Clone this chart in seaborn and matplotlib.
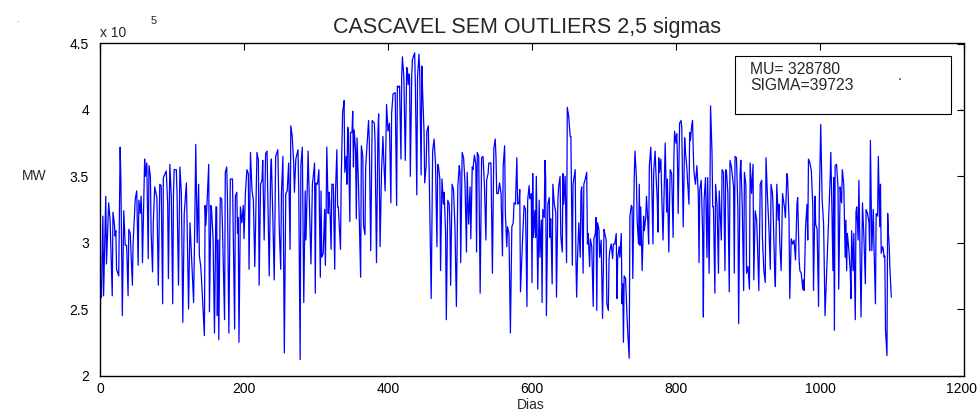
import numpy as np
import pandas as pd
import matplotlib
matplotlib.use("Agg")
import matplotlib.pyplot as plt
from matplotlib.patches import Rectangle
import matplotlib.transforms as mtransforms
import seaborn as sns

# ---- data (MW / 1e5) ----
dias_a = [0,1,2,4,5, 8,9,12,14,17, 18,20,21,22,23, 26,28,29,31,33, 35,37,39,40,42, 45,46,49,51,53,
          54,56,57,58,59, 62,63,65,67,68, 70,71,73,74,76, 79,81,83,85,87, 88,92,94,95,97, 99,101,102,103,106,
          107,109,111,113,115, 117,120,123,125,127, 130,132,133,135,137, 138]
mw_a = [2.27,2.72,2.59,3.20,2.60, 3.35,2.84,3.30,3.17,2.60, 3.23,3.14,3.05,3.09,2.80, 2.75,3.72,3.48,2.45,3.24,
        2.98,2.98,2.60,3.10,3.07, 2.68,3.00,3.33,3.39,2.83, 3.32,3.22,3.35,3.22,2.85, 3.63,3.50,3.60,2.88,3.58,
        3.50,3.08,2.78,3.15,3.42, 3.34,2.68,3.44,3.43,2.54, 3.49,3.54,3.29,2.73,3.59, 3.35,2.54,3.35,3.55,3.55,
        3.37,2.68,3.57,3.37,2.40, 3.22,3.45,2.50,3.15,2.91, 2.55,3.29,3.74,3.00,3.44, 2.90]

dias_b = [140,142,145,146,147, 149,151,152,154,155, 157,159,161,162,163, 164,165,167,169,170,
          173,174,176,177,179, 181,184,185,187,188, 190,191,192,193,195, 197,199,200,202,204,
          206,207,209,211,213, 215,218,220,221,223, 225,226,228,230,232, 235,237,238,240,242,
          244,247,249,251,252, 254,256,258,260,262, 264,265,267,269,270, 272,275,276,278]
mw_b = [2.82,2.62,2.30,3.28,3.13, 3.34,3.59,2.48,3.28,3.24, 3.04,2.32,3.27,3.27,2.45, 3.02,2.27,3.34,3.33,3.14,
        2.42,3.53,3.57,3.34,2.32, 3.48,3.48,3.10,2.35,3.35, 3.38,3.07,3.19,2.25,3.27, 3.15,3.28,3.03,3.38,3.55,
        3.52,2.80,3.68,3.40,3.32, 2.82,3.68,3.62,2.68,3.44, 3.47,3.62,3.02,3.67,3.69, 2.75,3.54,3.63,3.20,2.72,
        3.65,3.70,3.10,2.80,3.37, 3.65,2.17,3.37,3.39,3.60, 2.95,3.88,3.80,3.60,3.38, 3.63,3.70,3.40,2.12]

dias_c = [279,281,283,285,286, 288,289,291,293,295, 296,298,299,300,302, 304,305,306,307,308,
          310,312,313,314,315, 317,318,319,321,322, 324,326,327,329,330, 331,334,335,337,338,
          339,340,342,343,344, 345,347,348,350,351, 352,353,355,356,357, 359,362,363,365,366,
          368,369,373,374,376, 378,381,382,384,386, 387,389,391,393,394, 396,398,400,402,404,
          405,407,410,412,413, 415,416,418,419,420, 422]
mw_c = [3.58,3.72,2.55,3.39,3.02, 3.44,3.69,3.27,2.84,3.44, 3.49,3.60,2.62,3.45,3.44, 3.55,3.15,2.74,3.39,2.89,
        2.92,3.25,2.83,3.20,3.72, 3.22,3.38,3.32,2.95,3.44, 3.44,2.80,3.37,3.70,3.27, 3.27,2.95,3.47,3.99,4.02,
        4.07,3.53,3.65,3.44,3.87, 3.84,3.16,3.83,3.83,3.99, 3.57,3.85,3.69,3.18,3.79, 3.44,2.74,3.73,3.65,3.13,
        3.06,3.57,3.92,3.77,2.94, 3.92,3.90,3.77,2.85,3.83, 3.97,2.97,3.54,3.80,3.64, 3.39,4.04,3.84,3.90,3.30,
        3.97,4.12,4.13,3.28,4.18, 4.17,4.18,3.63,4.25,4.40, 4.25]

dias_d = [424,426,427,428,429, 430,431,433,434,437, 438,440,441,443,444, 446,447,448,450,451,
          453,454,456,457,460, 462,464,466,468,469, 470,472,473,475,477, 478,480,481,483,485,
          486,487,489,491,493, 495,497,499,500,501, 503,505,507,509,510, 512,514,515,517,518,
          520,522,523,524,526, 528,530,532,534,536, 537,539,540,543,545, 547,549,550,551,553,
          555,557,559,560,562, 563,565,566,568,570]
mw_d = [3.62,4.32,4.29,4.19,4.27, 4.24,3.50,4.27,4.38,4.43, 4.19,3.36,4.24,4.42,4.29, 3.51,4.33,4.15,3.84,3.45,
        3.58,3.84,3.88,3.59,2.58, 3.69,3.78,3.59,2.97,3.59, 3.58,3.48,2.79,3.48,3.29, 3.38,3.07,2.42,3.32,3.29,
        3.14,2.68,3.44,3.40,3.12, 2.52,3.43,3.58,3.53,2.85, 3.68,3.64,3.44,2.93,3.53, 3.14,3.42,3.03,3.57,3.55,
        3.66,3.59,2.93,3.68,3.65, 2.62,3.64,3.65,3.42,3.02, 3.47,3.52,3.60,3.60,2.77, 3.71,3.78,3.64,3.37,3.37,
        3.45,3.37,2.90,3.58,3.73, 3.22,2.97,3.12,3.07,2.32]

dias_e = [572,574,575,577,579, 580,582,583,584,587, 589,591,593,594,596, 597,599,600,601,602,
          604,605,606,608,610, 611,613,614,615,617, 618,619,620,622,624, 625,626,628,629,631,
          633,634,636,637,639, 640,642,643,644,646, 648,649,651,653,654, 656,657,660,661,662,
          663,665,667,668,669, 671,672,674,676,677, 678,680,681,683,685, 686,688,689,690,691,
          693,694,696,698,700, 701,703,704,706,707, 708,710,712,713,715, 717]
mw_e = [3.12,3.15,3.30,3.29,3.64, 3.29,3.30,3.40,2.63,3.04, 3.28,3.25,2.52,3.32,3.43, 3.33,3.37,2.70,3.52,3.04,
        3.24,3.04,3.50,2.65,3.32, 2.89,3.17,2.55,3.25,3.19, 3.62,3.49,2.45,3.29,3.34, 3.04,3.18,2.69,3.44,3.29,
        3.23,2.59,3.32,3.42,3.50, 3.05,2.93,3.52,3.29,3.50, 2.85,4.02,3.95,3.80,3.80, 2.83,3.44,3.55,2.87,2.59,
        2.84,3.15,2.89,3.38,3.42, 2.77,3.44,3.48,3.53,2.99, 3.07,2.82,3.03,2.97,2.52, 3.03,3.07,3.19,2.49,3.15,
        3.10,2.89,3.02,2.43,3.10, 3.07,3.02,2.54,2.49,2.87, 2.94,2.99,2.88,2.99,2.99, 3.07]

dias_f = [718,719,721,722,724, 725,726,727,728,730, 732,733,735,736,738, 739,740,742,743,745,
          746,748,749,750,751, 753,755,756,758,759, 761,762,763,765,766, 768,769,771,772,774,
          775,776,777,779,780, 782,784,785,787,788, 790,791,792,794,796, 797,798,800,801,802,
          803,805,807,808,810, 812,813,815,816,818, 819,820,822,823,824, 825,827,829,831,832,
          833,835,837,838,839, 841,843,844,846,847, 848,850,851,852,854, 855,857,859,860]
mw_f = [2.58,2.88,2.97,2.89,3.07, 2.54,2.69,2.25,2.75,2.73, 2.44,2.32,2.13,3.20,3.28, 3.27,2.73,3.50,3.69,3.49,
        3.17,2.99,3.44,2.98,3.27, 2.79,3.20,3.09,3.19,3.35, 3.14,2.99,3.58,3.72,3.54, 2.99,3.53,3.69,3.54,3.32,
        3.08,3.64,3.53,3.63,3.40, 3.02,3.52,3.75,3.23,3.48, 2.93,3.29,3.55,3.52,3.04, 3.62,3.84,3.75,3.82,3.63,
        3.22,3.90,3.92,3.87,3.12, 3.79,3.69,3.57,3.47,3.29, 3.83,3.77,3.89,3.92,3.68, 3.53,3.44,3.58,3.36,2.85,
        3.40,3.47,3.07,2.44,3.32, 3.49,2.89,3.49,2.77,3.28, 4.03,3.68,3.27,3.27,2.62, 3.44,3.28,2.77,3.39]

dias_g = [863,864,866,868,869, 870,872,874,875,877, 880,881,882,884,886, 887,889,890,892,894,
          895,897,898,900,902, 903,905,907,908,910, 912,913,915,917,919, 920,922,924,925,927,
          929,931,932,934,935, 937,938,940,942,943, 944,946,948,951,952, 954,955,957,958,960,
          962,964,966,968,969, 971,972,974,976,977, 978,980,982,983,984, 986,988,990,991,993,
          994,996,998,999,1001, 1003,1005,1007]
mw_g = [3.02,3.55,3.53,2.79,3.55, 3.54,3.38,2.63,3.62,3.57, 3.42,2.77,3.65,3.64,3.24, 2.39,3.52,3.62,3.28,2.64,
        3.53,3.44,2.77,2.82,2.65, 3.60,3.37,3.59,2.72,3.24, 3.17,3.02,2.64,3.44,3.47, 3.04,2.79,2.70,3.64,3.35,
        3.12,2.80,3.44,3.37,3.22, 2.79,2.67,3.44,3.17,3.29, 3.02,2.79,3.37,3.25,3.19, 3.52,3.49,3.17,2.58,3.03,
        2.99,3.02,2.87,3.29,3.34, 2.87,2.79,2.77,2.65,2.72, 2.64,3.12,3.29,3.02,3.63, 3.60,3.54,3.27,2.64,3.35,
        3.14,3.10,2.52,3.29,3.89, 3.32,3.14,2.45]

dias_h = [1014,1015,1016,1018,1019, 1020,1021,1023,1025,1026, 1028,1029,1030,1031,1033, 1035,1036,1037,1038,1040,
          1042,1043,1044,1046,1047, 1049,1050,1051,1053,1054, 1056,1057,1059,1061,1063, 1064,1066,1068,1069,1070,
          1072,1074,1075,1077,1078, 1080,1081,1083,1084,1085, 1087,1088,1089,1090,1091, 1093,1094,1095,1096,1097,
          1099]
mw_h = [3.47,3.68,3.42,2.79,3.49, 2.34,3.58,3.59,3.42,2.65, 3.42,3.34,3.30,3.55,3.44, 2.89,3.17,2.79,3.07,2.95,
        2.79,2.58,3.09,2.79,3.07, 2.42,3.23,3.27,3.02,3.47, 2.77,2.44,3.30,3.04,2.69, 3.25,3.22,3.15,2.94,3.77,
        2.94,3.25,2.97,2.54,3.22, 3.20,3.65,3.12,3.44,2.92, 2.97,2.95,2.89,2.90,2.34, 2.15,3.22,3.07,2.99,2.82,
        2.59]

x_ticks = [0, 200, 400, 600, 800, 1000, 1200]
y_ticks = [2, 2.5, 3, 3.5, 4, 4.5]
y_tick_labels = ["2", "2.5", "3", "3.5", "4", "4.5"]
titulo = "CASCAVEL SEM OUTLIERS 2,5 sigmas"
caixa_linhas = ["MU= 328780", "SIGMA=39723"]

dias_all, mw_all = [], []
for d, m in [(dias_a, mw_a), (dias_b, mw_b), (dias_c, mw_c), (dias_d, mw_d),
             (dias_e, mw_e), (dias_f, mw_f), (dias_g, mw_g), (dias_h, mw_h)]:
    assert len(d) == len(m), (len(d), len(m))
    dias_all += d
    mw_all += m
df = pd.DataFrame({"Dias": dias_all, "MW": mw_all})

# ---- figure ----
sns.set_style("white")
plt.rcParams["font.family"] = ["Liberation Sans", "DejaVu Sans"]

W, H = 977, 416
fig = plt.figure(figsize=(W / 100, H / 100), dpi=100)
fig.patch.set_facecolor("white")
ax = fig.add_axes([100 / W, 1 - 375.5 / H, 864 / W, 332 / H])

sns.lineplot(data=df, x="Dias", y="MW", ax=ax, color=(0, 0, 1), lw=0.9,
             estimator=None, sort=False)

ax.set_xlim(0, 1200)
ax.set_ylim(2, 4.5)
ax.set_xticks(x_ticks)
ax.set_xticklabels([str(t) for t in x_ticks])
ax.set_yticks(y_ticks)
ax.set_yticklabels(y_tick_labels)
ax.tick_params(axis="both", direction="in", length=5, width=0.8, colors="black",
               top=True, right=True, labelsize=10)
ax.tick_params(axis="x", pad=5)
ax.tick_params(axis="y", pad=8)
# keep the last x label inside the canvas
last = ax.get_xticklabels()[-1]
last.set_transform(last.get_transform() + mtransforms.ScaledTranslation(-3 / 100, 0, fig.dpi_scale_trans))
for s in ax.spines.values():
    s.set_visible(True)
    s.set_color("black")
    s.set_linewidth(1.0)
ax.set_xlabel("")
ax.set_ylabel("")
ax.grid(False)

# stats box
ax.add_patch(Rectangle(((735 - 100) / 864, (375.5 - 114.5) / 332), (951 - 735) / 864, (114.5 - 56.5) / 332,
                       transform=ax.transAxes, fill=False, ec="black", lw=0.8, zorder=5))
fig.text(750 / W, 1 - 69 / H, caixa_linhas[0], fontsize=11.3, va="center", ha="left")
fig.text(750 / W, 1 - 86 / H, caixa_linhas[1], fontsize=11.3, va="center", ha="left")
fig.text(900 / W, 1 - 80 / H, ".", fontsize=10, va="baseline", ha="center")
fig.text(960 / W, 1 - 110 / H, ".", fontsize=7, va="baseline", ha="center")
fig.text(17 / W, 1 - 22 / H, ".", fontsize=6, va="baseline", ha="center", color="#555555")

# title, labels, exponent
fig.text(527 / W, 1 - 28 / H, titulo, fontsize=15.5, ha="center", va="center")
fig.text(100 / W, 1 - 33 / H, "x 10", fontsize=10, ha="left", va="center")
fig.text(151 / W, 1 - 21 / H, "5", fontsize=8, ha="left", va="center")
fig.text(34 / W, 1 - 176 / H, "MW", fontsize=10, ha="center", va="center")
fig.text(531 / W, 1 - 405 / H, "Dias", fontsize=10, ha="center", va="center")

fig.savefig("out.png", dpi=100, facecolor="white")
